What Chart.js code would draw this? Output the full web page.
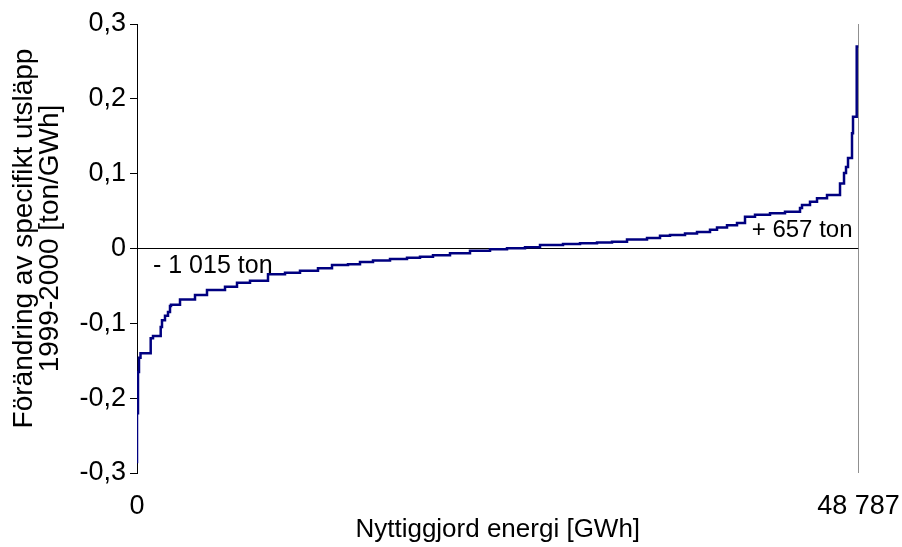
<!DOCTYPE html>
<html><head><meta charset="utf-8">
<script src="https://cdn.jsdelivr.net/npm/chart.js@4/dist/chart.umd.min.js"></script>
<style>html,body{margin:0;padding:0;background:#fff}#wrap{width:902px;height:547px}</style>
</head><body><div id="wrap"><canvas id="c" width="902" height="547"></canvas></div>
<script>
// Cumulative useful energy (GWh) where each step starts
const energyGWh = [0, 68, 135, 237, 926, 1082, 1603, 1690, 1893, 2096, 2231, 2299, 2908, 3922, 4733, 5951, 6762, 7641, 8858, 10008, 11022, 12239, 13186, 14268, 15079, 15958, 17108, 18257, 19136, 20015, 21165, 22517, 23870, 25019, 26237, 27251, 28806, 29956, 31105, 32120, 33134, 34486, 35365, 36041, 37056, 37867, 38746, 39220, 39896, 40572, 41113, 41789, 42803, 43817, 44832, 44967, 45508, 45982, 46658, 47537, 47808, 47943, 48078, 48348, 48416, 48666, 48740, 48787];
// Change in specific emission (ton/GWh) for each step
const changeTonPerGWh = [-0.287, -0.22, -0.165, -0.146, -0.140, -0.120, -0.117, -0.105, -0.096, -0.090, -0.085, -0.077, -0.075, -0.068, -0.062, -0.0555, -0.051, -0.0457, -0.043, -0.0345, -0.0324, -0.0297, -0.0265, -0.022, -0.021, -0.018, -0.016, -0.014, -0.0125, -0.011, -0.009, -0.0065, -0.003, -0.001, 0.0003, 0.0016, 0.0047, 0.006, 0.007, 0.008, 0.009, 0.012, 0.014, 0.017, 0.018, 0.020, 0.022, 0.025, 0.028, 0.031, 0.034, 0.0425, 0.045, 0.047, 0.049, 0.054, 0.058, 0.0625, 0.067, 0.0715, 0.087, 0.101, 0.109, 0.121, 0.154, 0.176, 0.27, 0.27];
const xMax = 48787;
const yMin = -0.3, yMax = 0.3, yStep = 0.1;
const xTickValues = [0, 48787];
const xTickLabels = ['0', '48 787'];
const yTitle = ['Förändring av specifikt utsläpp', '1999-2000 [ton/GWh]'];
const xTitle = 'Nyttiggjord energi [GWh]';
const annotationTexts = ['- 1 015 ton', '+ 657 ton'];

const FONT = "'Liberation Sans', Arial, sans-serif";

const textPlugin = {
  id: 'notes',
  afterDatasetsDraw(chart) {
    const {ctx, scales: {x, y}} = chart;
    ctx.save();
    ctx.fillStyle = '#000';
    ctx.textBaseline = 'middle';
    ctx.font = '25px ' + FONT;
    ctx.textAlign = 'left';
    ctx.fillText(annotationTexts[0], x.getPixelForValue(0) + 16, y.getPixelForValue(0) + 18);
    ctx.font = '24px ' + FONT;
    ctx.textAlign = 'right';
    ctx.fillText(annotationTexts[1], x.getPixelForValue(xMax) - 6, y.getPixelForValue(0) - 18);
    // y-axis title (two rotated lines)
    const cy = (y.top + y.bottom) / 2 - 10;
    ctx.font = '28px ' + FONT;
    ctx.textAlign = 'center';
    [24, 50].forEach((cx, i) => {
      ctx.save();
      ctx.translate(cx, cy);
      ctx.rotate(-Math.PI / 2);
      ctx.fillText(yTitle[i], 0, 0);
      ctx.restore();
    });
    ctx.restore();
  }
};

new Chart(document.getElementById('c'), {
  type: 'line',
  data: {
    datasets: [
      {
        data: energyGWh.map((e, i) => ({x: e, y: changeTonPerGWh[i]})),
        borderColor: '#000080', borderWidth: 2.5, pointRadius: 0, stepped: 'after', fill: false, order: 0
      },
      {
        data: [{x: 0, y: 0}, {x: xMax, y: 0}],
        borderColor: '#000', borderWidth: 1, pointRadius: 0, order: 1
      },
      {
        data: [{x: xMax, y: yMin}, {x: xMax, y: yMax}],
        borderColor: '#222', borderWidth: 1, pointRadius: 0, order: 1
      }
    ]
  },
  options: {
    responsive: false, animation: false, devicePixelRatio: 1,
    layout: {padding: {top: 24, right: 43.5, bottom: 0, left: 0}},
    plugins: {legend: {display: false}, tooltip: {enabled: false}},
    scales: {
      x: {
        type: 'linear', min: 0, max: xMax,
        grid: {display: false, drawTicks: false},
        border: {display: false},
        afterBuildTicks: s => { s.ticks = xTickValues.map(v => ({value: v})); },
        afterFit: s => { s.height = 74; s.paddingLeft = 0; s.paddingRight = 0; },
        ticks: {
          autoSkip: false, maxRotation: 0, padding: 17, color: '#000',
          font: {family: FONT, size: 27},
          callback: v => xTickLabels[xTickValues.indexOf(v)]
        },
        title: {display: true, text: xTitle, color: '#000', font: {family: FONT, size: 26}, padding: {top: 0, bottom: 2}}
      },
      y: {
        min: yMin, max: yMax,
        afterFit: s => { s.width = 137; s.paddingTop = 0; s.paddingBottom = 0; },
        grid: {drawOnChartArea: false, drawTicks: true, tickLength: 7, color: '#000', lineWidth: 1},
        border: {display: true, color: '#000', width: 1},
        ticks: {
          stepSize: yStep, padding: 4, color: '#000',
          font: {family: FONT, size: 27},
          callback: v => { const r = Math.round(v * 10) / 10; return r === 0 ? '0' : r.toFixed(1).replace('.', ','); }
        },
        title: {display: false}
      }
    }
  },
  plugins: [textPlugin]
});
</script></body></html>
